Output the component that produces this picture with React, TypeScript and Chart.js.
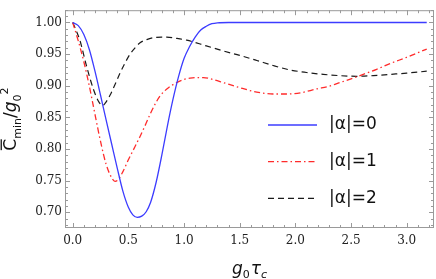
import React, { useEffect, useRef } from "react";
import { Chart, registerables } from "chart.js";

Chart.register(...registerables);

// ---- data ----
const xAlpha0 = [0, 0.05, 0.1, 0.15, 0.2, 0.25, 0.3, 0.35, 0.4, 0.45, 0.5, 0.54, 0.58, 0.62, 0.66, 0.7, 0.75, 0.8, 0.85, 0.9, 0.95, 1.0, 1.05, 1.1, 1.15, 1.2, 1.25, 1.3, 1.4, 2.0, 2.6, 3.18];
const yAlpha0 = [1.0, 0.995, 0.981, 0.957, 0.923, 0.885, 0.846, 0.808, 0.77, 0.734, 0.708, 0.696, 0.692, 0.694, 0.701, 0.716, 0.748, 0.79, 0.836, 0.878, 0.914, 0.943, 0.962, 0.977, 0.988, 0.994, 0.998, 0.9995, 1.0, 1.0, 1.0, 1.0];

const xAlpha1 = [0, 0.05, 0.1, 0.15, 0.2, 0.25, 0.3, 0.34, 0.38, 0.41, 0.45, 0.5, 0.56, 0.605, 0.65, 0.695, 0.74, 0.785, 0.86, 0.934, 1.0, 1.054, 1.12, 1.173, 1.26, 1.353, 1.5, 1.653, 1.8, 1.923, 2.05, 2.19, 2.3, 2.4, 2.5, 2.61, 2.73, 2.85, 3.0, 3.18];
const yAlpha1 = [1.0, 0.971, 0.938, 0.899, 0.855, 0.812, 0.776, 0.758, 0.749, 0.752, 0.764, 0.783, 0.804, 0.82, 0.837, 0.855, 0.871, 0.884, 0.897, 0.905, 0.91, 0.912, 0.913, 0.913, 0.91, 0.905, 0.897, 0.89, 0.887, 0.887, 0.889, 0.895, 0.899, 0.905, 0.911, 0.918, 0.926, 0.935, 0.945, 0.958];

const xAlpha2 = [0, 0.03, 0.066, 0.126, 0.185, 0.23, 0.255, 0.27, 0.29, 0.335, 0.38, 0.425, 0.47, 0.515, 0.56, 0.605, 0.665, 0.725, 0.8, 0.845, 0.93, 1.024, 1.2, 1.353, 1.5, 1.653, 1.8, 1.952, 2.1, 2.25, 2.4, 2.55, 2.7, 2.85, 3.0, 3.18];
const yAlpha2 = [1.0, 0.988, 0.971, 0.93, 0.895, 0.876, 0.87, 0.869, 0.872, 0.885, 0.902, 0.92, 0.936, 0.95, 0.96, 0.968, 0.973, 0.976, 0.977, 0.977, 0.975, 0.972, 0.963, 0.955, 0.948, 0.94, 0.932, 0.925, 0.921, 0.918, 0.916, 0.915, 0.916, 0.918, 0.92, 0.923];

const seriesLabels = ["|α|=0", "|α|=1", "|α|=2"];
const xTickValues = [0, 0.5, 1.0, 1.5, 2.0, 2.5, 3.0];
const yTickValues = [0.7, 0.75, 0.8, 0.85, 0.9, 0.95, 1.0];

const toPoints = (xs: number[], ys: number[]) => xs.map((x, i) => ({ x, y: ys[i] }));

const FRAME = "#9a9a9a";

const decorPlugin = {
  id: "decor",
  afterDatasetsDraw(chart: any) {
    const { ctx, chartArea: a, scales } = chart;
    const xs = scales.x;
    const ys = scales.y;
    ctx.save();
    // frame
    ctx.strokeStyle = FRAME;
    ctx.lineWidth = 1;
    ctx.strokeRect(a.left + 0.5, a.top + 0.5, a.right - a.left - 1, a.bottom - a.top - 1);
    // ticks (inward on all four sides)
    ctx.beginPath();
    for (let i = 0; i <= 32; i++) {
      const v = i / 10;
      const px = Math.round(xs.getPixelForValue(v)) + 0.5;
      if (px < a.left || px > a.right) continue;
      const len = i % 5 === 0 ? 5 : 3;
      ctx.moveTo(px, a.bottom);
      ctx.lineTo(px, a.bottom - len);
      ctx.moveTo(px, a.top);
      ctx.lineTo(px, a.top + len);
    }
    for (let i = 68; i <= 102; i++) {
      const v = i / 100;
      const py = Math.round(ys.getPixelForValue(v)) + 0.5;
      if (py < a.top || py > a.bottom) continue;
      const len = i % 5 === 0 ? 5 : 3;
      ctx.moveTo(a.left, py);
      ctx.lineTo(a.left + len, py);
      ctx.moveTo(a.right, py);
      ctx.lineTo(a.right - len, py);
    }
    ctx.stroke();

    // legend
    const rows = [125, 161.7, 198.3];
    chart.data.datasets.forEach((ds: any, i: number) => {
      const y = rows[i];
      ctx.save();
      ctx.strokeStyle = ds.borderColor;
      ctx.lineWidth = ds.borderWidth;
      ctx.setLineDash(ds.borderDash || []);
      ctx.beginPath();
      ctx.moveTo(268, y);
      ctx.lineTo(317, y);
      ctx.stroke();
      ctx.restore();
      ctx.fillStyle = "#111";
      ctx.font = "17px 'DejaVu Sans'";
      ctx.textBaseline = "middle";
      ctx.textAlign = "left";
      ctx.fillText(ds.label, 329, y);
    });

    // x axis title: g0 tau_c
    const main = 17, sub = 11;
    const xParts = [
      { t: "g", f: `italic ${main}px 'DejaVu Sans'`, dy: 0 },
      { t: "0", f: `${sub}px 'DejaVu Sans'`, dy: 4 },
      { t: "τ", f: `italic ${main}px 'DejaVu Sans'`, dy: 0, gap: 1 },
      { t: "c", f: `italic ${sub}px 'DejaVu Sans'`, dy: 4 },
    ];
    ctx.fillStyle = "#111";
    ctx.textBaseline = "alphabetic";
    ctx.textAlign = "left";
    let total = 0;
    const widths = xParts.map((p: any) => {
      ctx.font = p.f;
      const w = ctx.measureText(p.t).width + (p.gap || 0);
      total += w;
      return w;
    });
    let cx = (a.left + a.right) / 2 - total / 2;
    const baseY = 274;
    xParts.forEach((p: any, i: number) => {
      ctx.font = p.f;
      ctx.fillText(p.t, cx + (p.gap || 0), baseY + p.dy);
      cx += widths[i];
    });

    // y axis title: C̄_min / g_0^2 (rotated)
    ctx.save();
    ctx.translate(16, (a.top + a.bottom) / 2);
    ctx.rotate(-Math.PI / 2);
    const yParts = [
      { t: "C", f: `${main}px 'DejaVu Sans'`, dy: 0, bar: true },
      { t: "min", f: `${sub}px 'DejaVu Sans'`, dy: 5 },
      { t: "/", f: `${main}px 'DejaVu Sans'`, dy: 0 },
      { t: "g", f: `italic ${main}px 'DejaVu Sans'`, dy: 0 },
      { t: "0", f: `${sub}px 'DejaVu Sans'`, dy: 5 },
      { t: "2", f: `${sub}px 'DejaVu Sans'`, dy: -8 },
    ];
    let ytot = 0;
    const yw = yParts.map((p: any) => {
      ctx.font = p.f;
      const w = ctx.measureText(p.t).width;
      ytot += w;
      return w;
    });
    let lx = -ytot / 2;
    yParts.forEach((p: any, i: number) => {
      ctx.font = p.f;
      ctx.fillText(p.t, lx, p.dy);
      if (p.bar) {
        ctx.fillRect(lx + 0.5, -main * 0.73 - 3, yw[i] - 1, 1.3);
      }
      lx += yw[i];
    });
    ctx.restore();

    ctx.restore();
  },
};

export default function App() {
  const ref = useRef<HTMLCanvasElement | null>(null);
  useEffect(() => {
    if (!ref.current) return;
    const chart = new Chart(ref.current, {
      type: "line",
      data: {
        datasets: [
          {
            label: seriesLabels[0],
            data: toPoints(xAlpha0, yAlpha0),
            borderColor: "#3c3cff",
            borderWidth: 1.3,
            pointRadius: 0,
            cubicInterpolationMode: "monotone",
            fill: false,
          },
          {
            label: seriesLabels[1],
            data: toPoints(xAlpha1, yAlpha1),
            borderColor: "#ff2b2b",
            borderWidth: 1.3,
            borderDash: [6, 3, 1.5, 3],
            pointRadius: 0,
            cubicInterpolationMode: "monotone",
            fill: false,
          },
          {
            label: seriesLabels[2],
            data: toPoints(xAlpha2, yAlpha2),
            borderColor: "#1a1a1a",
            borderWidth: 1.2,
            borderDash: [6, 4],
            pointRadius: 0,
            cubicInterpolationMode: "monotone",
            fill: false,
          },
        ],
      },
      options: {
        responsive: false,
        devicePixelRatio: 1,
        animation: false,
        layout: { padding: { top: 1, right: 2, left: 0, bottom: 0 } },
        plugins: { legend: { display: false }, tooltip: { enabled: false } },
        scales: {
          x: {
            type: "linear",
            min: -0.0692,
            max: 3.2452,
            grid: { display: false, drawTicks: false },
            border: { display: false },
            ticks: {
              font: { family: "'DejaVu Serif'", size: 12 },
              color: "#222",
              padding: 6,
              maxRotation: 0,
              autoSkip: false,
              callback: (v: any) => Number(v).toFixed(1),
            },
            afterBuildTicks: (s: any) => {
              s.ticks = xTickValues.map((v) => ({ value: v }));
            },
            afterFit: (s: any) => {
              s.height = 51;
            },
          },
          y: {
            type: "linear",
            min: 0.6753,
            max: 1.0194,
            grid: { display: false, drawTicks: false },
            border: { display: false },
            ticks: {
              font: { family: "'DejaVu Serif'", size: 12 },
              color: "#222",
              padding: 3,
              autoSkip: false,
              callback: (v: any) => Number(v).toFixed(2),
            },
            afterBuildTicks: (s: any) => {
              s.ticks = yTickValues.map((v) => ({ value: v }));
            },
            afterFit: (s: any) => {
              s.width = 65;
            },
          },
        },
      },
      plugins: [decorPlugin],
    });
    return () => chart.destroy();
  }, []);
  return (
    <div style={{ position: "fixed", left: 0, top: 0, width: 436, height: 279, background: "#fff" }}>
      <canvas ref={ref} width={436} height={279} style={{ display: "block" }} />
    </div>
  );
}
